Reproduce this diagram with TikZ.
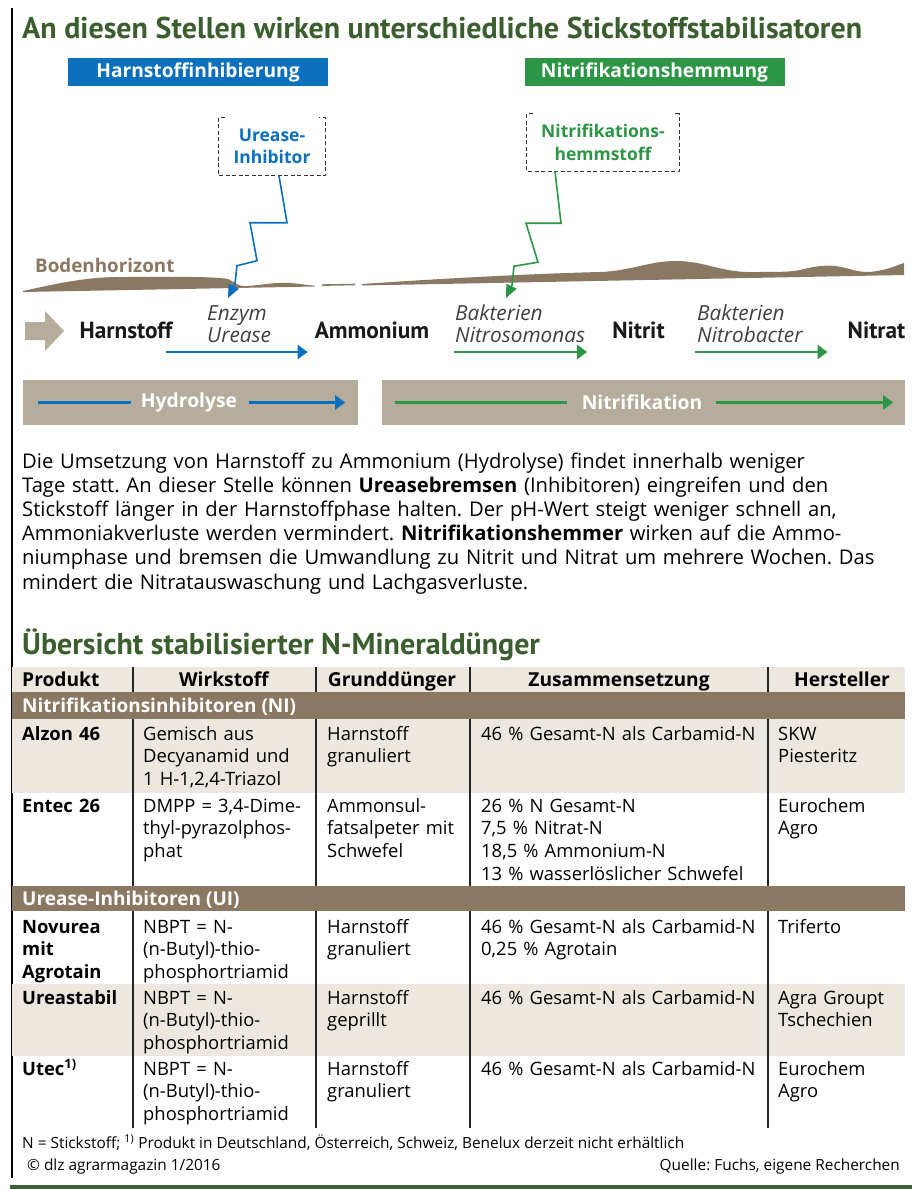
\documentclass[tikz,border=0pt]{standalone}
\usepackage{fontspec}
\setmainfont{Open Sans}
\newfontfamily\ptf{PT Sans}
\usetikzlibrary{arrows.meta,positioning}
\definecolor{titlegreen}{RGB}{58,94,46}
\definecolor{ablue}{RGB}{10,112,190}
\definecolor{agreen}{RGB}{44,150,70}
\definecolor{soil}{RGB}{139,120,98}
\definecolor{barbeige}{RGB}{181,172,155}
\definecolor{rowbeige}{RGB}{236,231,223}
\definecolor{footgreen}{RGB}{62,96,56}
\newcommand\tabfont{\fontsize{18.4}{22.7}\selectfont}
\frenchspacing

\begin{document}
\begin{tikzpicture}[x=1pt,y=-1pt,
    compound/.style={inner sep=0pt,font=\ptf\bfseries\fontsize{23.3}{26}\selectfont,text=black!90},
    micro/.style={inner sep=0pt,anchor=west,align=left,font=\itshape\fontsize{20.8}{22}\selectfont,text=black!75},
    bluearr/.style={draw=ablue,line width=2.3pt,-{Triangle[length=10pt,width=14pt]}},
    greenarr/.style={draw=agreen,line width=2.3pt,-{Triangle[length=10pt,width=14pt]}},
    headbox/.style={text=white,minimum width=260pt,minimum height=28pt,inner sep=0pt,font=\bfseries\fontsize{19.2}{20}\selectfont},
    inhib/.style={inner sep=0pt,minimum height=58pt,align=center,font=\bfseries\fontsize{17.5}{22.5}\selectfont},
    dashbox/.style={draw=black!80,line width=0.9pt,dash pattern=on 4pt off 2.5pt},
    stepline/.style={line width=1.6pt,-{Triangle[length=13pt,width=11pt]}},
    bar/.style={fill=barbeige,inner sep=0pt,minimum height=45pt},
    barlabel/.style={text=white,inner sep=0pt,font=\bfseries\fontsize{19.3}{20}\selectfont},
    cell/.style={anchor=base west,inner sep=0pt,text width=#1,align=left,font=\tabfont},
    headcell/.style={anchor=base,inner sep=0pt,font=\bfseries\fontsize{19.2}{20}\selectfont},
    band/.style={fill=soil,inner sep=0pt,anchor=north west,minimum width=893pt},
    bandlabel/.style={anchor=base west,inner sep=0pt,text=white,font=\bfseries\fontsize{19}{20}\selectfont},
    colline/.style={black!85,line width=1.2pt},
    foot/.style={inner sep=0pt,font=\fontsize{15.4}{17}\selectfont}]
\useasboundingbox (0,0) rectangle (912,1189);
\fill[white] (0,0) rectangle (912,1189);
\draw[line width=1.2pt] (12,8) -- (12,1178);
\fill[footgreen] (10,1185) rectangle (912,1189);

\node[anchor=base west,inner sep=0pt,text=titlegreen,font=\ptf\bfseries\fontsize{30}{34}\selectfont] (title) at (22,38) {An diesen Stellen wirken unterschiedliche Stickstoffstabilisatoren};

\node[headbox,fill=ablue] (hinh) at (198,72) {Harnstoffinhibierung};
\node[headbox,fill=agreen] (ninh) at (654.5,72) {Nitrifikationshemmung};

\node[inhib,minimum width=106pt,text=ablue] (uinh) at (272,146.5) {Urease-\\Inhibitor};
\node[inhib,minimum width=152pt,minimum height=57pt,text=agreen] (nhemm) at (603,142.5) {Nitrifikations-\\hemmstoff};
\draw[dashbox] ([xshift=6pt]uinh.north west) -- (uinh.north west) -- (uinh.south west) -- (uinh.south east) -- (uinh.north east) -- ([xshift=-6pt]uinh.north east);
\draw[dashbox] ([xshift=6pt]nhemm.north west) -- (nhemm.north west) -- (nhemm.south west) -- (nhemm.south east) -- (nhemm.north east) -- ([xshift=-6pt]nhemm.north east);

\node[anchor=west,inner sep=0pt,text=soil,font=\bfseries\fontsize{18.8}{20}\selectfont] (boden) at (35,265) {Bodenhorizont};
\fill[soil] (23,291) .. controls (55,284) and (85,277) .. (120,277) .. controls (160,277) and (210,276) .. (228,279) .. controls (236,283) and (238,286) .. (245,286.3) .. controls (262,285) and (275,282) .. (290,283) .. controls (300,284) and (308,285) .. (315,285.8) -- (315,286.5) -- (23,292) -- cycle;
\fill[soil] (322,284.3) -- (355,283.7) -- (355,285.3) -- (322,285.9) -- cycle;
\fill[soil] (362,284) .. controls (420,280) and (520,274) .. (600,272) .. controls (630,271) and (650,261) .. (675,261) .. controls (705,261) and (720,272) .. (750,272) .. controls (780,272) and (790,272) .. (800,270) .. controls (815,266) and (825,265) .. (835,266) .. controls (850,268) and (855,272) .. (868,272) .. controls (885,271) and (895,266) .. (904,263) -- (904,275) -- (362,285.5) -- cycle;

\coordinate (utip) at (228,298);
\coordinate (ntip) at (506,298);
\draw[stepline,ablue] ([xshift=7pt]uinh.south) -- ++(8,47) -- ++(-37,0) -- ++(7,38) -- ++(-20,5) -- ++(-2,18) -- (utip);
\draw[stepline,agreen] ([xshift=-48pt]nhemm.south) -- ++(6,52) -- ++(-35,0) -- ++(12,39) -- ++(-24,4) -- ++(-2,19) -- (ntip);

\fill[barbeige] (25,322) -- (45,322) -- (45,311) -- (64,331) -- (45,351) -- (45,340) -- (25,340) -- cycle;
\node[compound] (harn) at (126,330) {Harnstoff};
\node[compound] (amm) at (372,330) {Ammonium};
\node[compound] (nitrit) at (638.5,330) {Nitrit};
\node[compound] (nitrat) at (876.5,330) {Nitrat};
\node[micro] (enzym) at (207,324) {Enzym\\Urease};
\node[micro] (nsomo) at (455,324) {Bakterien\\Nitrosomonas};
\node[micro] (nbact) at (697,324) {Bakterien\\Nitrobacter};
\coordinate (arow) at (0,352);
\draw[bluearr] ([xshift=-7pt]harn.east |- arow) -- ([xshift=-7pt]amm.west |- arow);
\draw[greenarr] ([xshift=25pt]amm.east |- arow) -- ([xshift=-25pt]nitrit.west |- arow);
\draw[greenarr] ([xshift=30pt]nitrit.east |- arow) -- ([xshift=-20pt]nitrat.west |- arow);

\node[bar,minimum width=335pt] (hbar) at (190.5,402.5) {};
\node[bar,minimum width=523pt] (nbar) at (643.5,402.5) {};
\node[barlabel] (hydro) at (189,402.5) {Hydrolyse};
\node[barlabel] (nitri) at (642,402.5) {Nitrifikation};
\draw[draw=ablue,line width=2.3pt] ([xshift=15pt]hbar.west) -- ([xshift=-10pt]hbar.west -| hydro.west);
\draw[bluearr] ([xshift=12pt]hbar.east -| hydro.east) -- ([xshift=-13pt]hbar.east);
\draw[draw=agreen,line width=2.3pt] ([xshift=13pt]nbar.west) -- ([xshift=-15pt]nbar.west -| nitri.west);
\draw[greenarr] ([xshift=14pt]nbar.east -| nitri.east) -- ([xshift=-12pt]nbar.east);

\node[anchor=base west,inner sep=0pt,text width=880pt,align=left,font=\fontsize{20.2}{24.2}\selectfont] (para) at (22,468) {Die Umsetzung von Harnstoff zu Ammonium (Hydrolyse) findet innerhalb weniger\\
Tage statt. An dieser Stelle können \textbf{Ureasebremsen} (Inhibitoren) eingreifen und den\\
Stickstoff länger in der Harnstoffphase halten. Der pH-Wert steigt weniger schnell an,\\
Ammoniakverluste werden vermindert. \textbf{Nitrifikationshemmer} wirken auf die Ammo-\\
niumphase und bremsen die Umwandlung zu Nitrit und Nitrat um mehrere Wochen. Das\\
mindert die Nitratauswaschung und Lachgasverluste.};

\node[anchor=base west,inner sep=0pt,text=titlegreen,font=\ptf\bfseries\fontsize{30}{34}\selectfont] (tabtitle) at (22,654) {Übersicht stabilisierter N-Mineraldünger};

\fill[rowbeige] (12,667) rectangle (905,692);
\fill[rowbeige] (12,719) rectangle (905,793);
\fill[rowbeige] (12,984) rectangle (905,1056);
\foreach \cx in {133,316,470,768}
  \draw[colline] (\cx,667) -- (\cx,1128);
\node[band,minimum height=27pt] (niband) at (12,692) {};
\node[band,minimum height=25pt] (uiband) at (12,886) {};
\node[bandlabel] (nilabel) at (22,712) {Nitrifikationsinhibitoren (NI)};
\node[bandlabel] (uilabel) at (22,905) {Urease-Inhibitoren (UI)};

\node[headcell,anchor=base west] (hprod) at (22,686) {Produkt};
\node[headcell] (hwirk) at (224,686) {Wirkstoff};
\node[headcell] (hgrund) at (392,686) {Grunddünger};
\node[headcell] (hzus) at (619,686) {Zusammensetzung};
\node[headcell] (hher) at (842,686) {Hersteller};

\node[cell=105pt,font=\tabfont\bfseries] (p1) at (22,740) {Alzon 46};
\node[cell=170pt] (w1) at (143,740) {Gemisch aus\\Decyanamid und\\1 H-1,2,4-Triazol};
\node[cell=140pt] (g1) at (327,740) {Harnstoff\\granuliert};
\node[cell=285pt] (z1) at (481,740) {46 \% Gesamt-N als Carbamid-N};
\node[cell=125pt] (h1) at (778,740) {SKW\\Piesteritz};

\node[cell=105pt,font=\tabfont\bfseries] (p2) at (22,812) {Entec 26};
\node[cell=170pt] (w2) at (143,812) {DMPP = 3,4-Dime-\\thyl-pyrazolphos-\\phat};
\node[cell=140pt] (g2) at (327,812) {Ammonsul-\\fatsalpeter mit\\Schwefel};
\node[cell=285pt] (z2) at (481,812) {26 \% N Gesamt-N\\7,5 \% Nitrat-N\\18,5 \% Ammonium-N\\13 \% wasserlöslicher Schwefel};
\node[cell=125pt] (h2) at (778,812) {Eurochem\\Agro};

\node[cell=105pt,font=\tabfont\bfseries] (p3) at (22,933) {Novurea\\mit\\Agrotain};
\node[cell=170pt] (w3) at (143,933) {NBPT = N-\\(n-Butyl)-thio-\\phosphortriamid};
\node[cell=140pt] (g3) at (327,933) {Harnstoff\\granuliert};
\node[cell=285pt] (z3) at (481,933) {46 \% Gesamt-N als Carbamid-N\\0,25 \% Agrotain};
\node[cell=125pt] (h3) at (778,933) {Triferto};

\node[cell=105pt,font=\tabfont\bfseries] (p4) at (22,1004) {Ureastabil};
\node[cell=170pt] (w4) at (143,1004) {NBPT = N-\\(n-Butyl)-thio-\\phosphortriamid};
\node[cell=140pt] (g4) at (327,1004) {Harnstoff\\geprillt};
\node[cell=285pt] (z4) at (481,1004) {46 \% Gesamt-N als Carbamid-N};
\node[cell=125pt] (h4) at (778,1004) {Agra Groupt\\Tschechien};

\node[cell=105pt,font=\tabfont\bfseries] (p5) at (22,1075) {Utec\textsuperscript{1)}};
\node[cell=170pt] (w5) at (143,1075) {NBPT = N-\\(n-Butyl)-thio-\\phosphortriamid};
\node[cell=140pt] (g5) at (327,1075) {Harnstoff\\granuliert};
\node[cell=285pt] (z5) at (481,1075) {46 \% Gesamt-N als Carbamid-N};
\node[cell=125pt] (h5) at (778,1075) {Eurochem\\Agro};

\node[foot,anchor=base west] (fnote) at (22,1148) {N = Stickstoff; \textsuperscript{1)} Produkt in Deutschland, Österreich, Schweiz, Benelux derzeit nicht erhältlich};
\node[foot,anchor=base west] (copy) at (27,1170) {© dlz agrarmagazin 1/2016};
\node[foot,anchor=base east] (src) at (900,1170) {Quelle: Fuchs, eigene Recherchen};
\end{tikzpicture}
\end{document}
